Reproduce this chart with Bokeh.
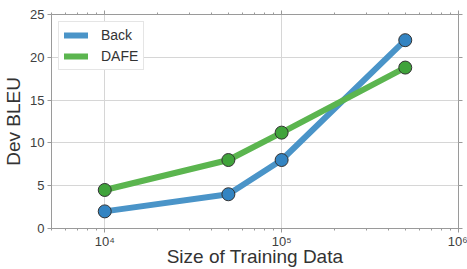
from bokeh.plotting import figure
from bokeh.models import LogAxis, LinearAxis, CustomJSTickFormatter, Legend, LegendItem, Range1d, LogTicker, FixedTicker
from bokeh.embed import file_html
from bokeh.resources import INLINE

sizes = [1e4, 5e4, 1e5, 5e5]
back = [2.0, 4.0, 8.0, 22.0]
dafe = [4.5, 8.0, 11.2, 18.8]
y_ticks = [0, 5, 10, 15, 20, 25]

FONT = "Liberation Sans"
SPINE = "#9a9a9a"
LABEL = "#333333"

p = figure(width=467, height=269, x_axis_type="log",
           x_range=Range1d(5000, 1e6), y_range=Range1d(0, 25),
           output_backend="svg", toolbar_location=None,
           min_border_left=51, min_border_right=9, min_border_top=14, min_border_bottom=0)
p.outline_line_color = SPINE
p.outline_line_width = 1

fmt = CustomJSTickFormatter(code="""
const sup = {'0':'\u2070','1':'\u00b9','2':'\u00b2','3':'\u00b3','4':'\u2074','5':'\u2075','6':'\u2076','7':'\u2077','8':'\u2078','9':'\u2079'};
const e = Math.round(Math.log10(tick));
return '10' + String(e).split('').map(c => sup[c]).join('');
""")

xt = LogTicker(num_minor_ticks=10)
xa = p.xaxis[0]
xa.ticker = xt
xa.formatter = fmt
xa.axis_label = "Size of Training Data"
ya = p.yaxis[0]
ya.ticker = FixedTicker(ticks=y_ticks)
ya.axis_label = "Dev BLEU"

for ax in (xa, ya):
    ax.axis_line_color = SPINE
    ax.major_tick_line_color = SPINE
    ax.minor_tick_line_color = SPINE
    ax.major_tick_out = 4
    ax.major_tick_in = 0
    ax.minor_tick_out = 2
    ax.minor_tick_in = 0
    ax.major_label_text_font = FONT
    ax.major_label_text_font_size = "13px"
    ax.major_label_text_color = "#404040"
    ax.axis_label_text_font = FONT
    ax.axis_label_text_font_size = "19px"
    ax.axis_label_text_font_style = "normal"
    ax.axis_label_text_color = LABEL
ya.minor_tick_line_color = None
xa.major_label_standoff = 1
xa.axis_label_standoff = -6
ya.major_label_standoff = 3
ya.axis_label_standoff = 3

top = LogAxis(ticker=LogTicker(num_minor_ticks=10), major_label_text_font_size="1px",
              major_label_text_alpha=0,
              axis_line_color=None, major_tick_line_color=SPINE, minor_tick_line_color=SPINE,
              major_tick_out=4, major_tick_in=0, minor_tick_out=2, minor_tick_in=0,
              major_label_standoff=0)
p.add_layout(top, "above")
right = LinearAxis(ticker=FixedTicker(ticks=y_ticks), major_label_text_font_size="1px",
                   major_label_text_alpha=0,
                   axis_line_color=None, major_tick_line_color=SPINE, minor_tick_line_color=None,
                   major_tick_out=4, major_tick_in=0, major_label_standoff=0)
p.add_layout(right, "right")

p.xgrid.ticker = xt
p.xgrid.grid_line_color = "#d6d6d6"
p.ygrid.grid_line_color = "#d6d6d6"
p.xgrid.minor_grid_line_color = None

l1 = p.line(sizes, back, line_color="#4a94c8", line_width=6, line_cap="round")
c1 = p.scatter(sizes, back, size=13, fill_color="#3384c2", line_color="#333333", line_width=1)
l2 = p.line(sizes, dafe, line_color="#5bb54f", line_width=6, line_cap="round")
c2 = p.scatter(sizes, dafe, size=13, fill_color="#40a33b", line_color="#333333", line_width=1)

leg = Legend(items=[LegendItem(label="Back", renderers=[l1]), LegendItem(label="DAFE", renderers=[l2])],
             location="top_left", label_text_font=FONT, label_text_font_size="14px",
             label_text_color=LABEL, border_line_color="#cccccc", border_line_width=1,
             glyph_width=24, glyph_height=14, label_height=14, spacing=5, padding=5, margin=7,
             label_standoff=13, background_fill_alpha=1)
p.add_layout(leg)

open("out.html", "w").write(file_html(p, INLINE))
